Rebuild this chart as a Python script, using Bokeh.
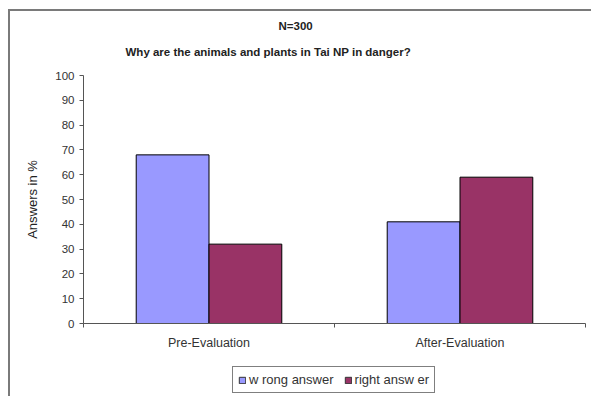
from bokeh.plotting import figure
from bokeh.models import (FixedTicker, Legend, LegendItem, Title, Column,
                          ColumnDataSource, Range1d)
from bokeh.embed import file_html
from bokeh.resources import INLINE

# Survey results (percent of answers), N=300
categories = ["Pre-Evaluation", "After-Evaluation"]
series = ["w rong answer", "right answ er"]
wrong_answer = [68, 41]
right_answer = [32, 59]
y_ticks = [0, 10, 20, 30, 40, 50, 60, 70, 80, 90, 100]
colors = ["#9999FF", "#993366"]

FONT = "Liberation Sans"
BAR_W = 0.29

centers = [i + 0.5 for i in range(len(categories))]

p = figure(width=581, height=351, output_backend="svg", toolbar_location=None,
           x_range=Range1d(0, len(categories)), y_range=Range1d(0, 100),
           min_border_left=73, min_border_right=6, min_border_top=64,
           min_border_bottom=39)
p.background_fill_color = "white"
p.border_fill_color = "white"
p.outline_line_color = None
p.grid.visible = False

src_wrong = ColumnDataSource(dict(x=[c - BAR_W / 2 for c in centers], top=wrong_answer))
src_right = ColumnDataSource(dict(x=[c + BAR_W / 2 for c in centers], top=right_answer))
p.vbar(x="x", top="top", width=BAR_W, source=src_wrong,
       fill_color=colors[0], line_color="#000000", line_width=1)
p.vbar(x="x", top="top", width=BAR_W, source=src_right,
       fill_color=colors[1], line_color="#000000", line_width=1)

# y axis
p.yaxis.ticker = FixedTicker(ticks=y_ticks)
p.yaxis.axis_label = "Answers in %"
p.yaxis.axis_label_text_font = FONT
p.yaxis.axis_label_text_font_size = "13px"
p.yaxis.axis_label_text_font_style = "normal"
p.yaxis.axis_label_text_color = "#222222"
p.yaxis.axis_label_standoff = 12
p.yaxis.major_label_text_font = FONT
p.yaxis.major_label_text_font_size = "11.5px"
p.yaxis.major_label_text_color = "#333333"
p.yaxis.major_label_standoff = 5
p.yaxis.major_tick_out = 4
p.yaxis.major_tick_in = 0
p.yaxis.minor_tick_line_color = None
p.yaxis.axis_line_color = "#555555"
p.yaxis.major_tick_line_color = "#555555"

# x axis: labels at category centres, small ticks between categories
p.xaxis.ticker = FixedTicker(ticks=centers, minor_ticks=[0, 1, 2])
p.xaxis.major_label_overrides = {c: name for c, name in zip(centers, categories)}
p.xaxis.major_label_text_font = FONT
p.xaxis.major_label_text_font_size = "12.5px"
p.xaxis.major_label_text_color = "#333333"
p.xaxis.major_label_standoff = 8
p.xaxis.major_tick_out = 0
p.xaxis.major_tick_in = 0
p.xaxis.major_tick_line_color = None
p.xaxis.minor_tick_out = 4
p.xaxis.minor_tick_in = 0
p.xaxis.minor_tick_line_color = "#555555"
p.xaxis.axis_line_color = "#555555"

# titles (first added sits nearest the plot)
p.add_layout(Title(text="Why are the animals and plants in Tai NP in danger?",
                   align="left", offset=42, standoff=32, vertical_align="top",
                   text_font=FONT, text_font_size="11.5px", text_font_style="bold",
                   text_color="#222222"), "above")
p.add_layout(Title(text="N=300", align="left", offset=195, standoff=-20,
                   vertical_align="top",
                   text_font=FONT, text_font_size="11.5px", text_font_style="bold",
                   text_color="#222222"), "above")

# legend strip under the chart; its bars lie outside the visible range,
# so only the legend swatches show
leg = figure(width=581, height=34, output_backend="svg", toolbar_location=None,
             x_axis_location=None, y_axis_location=None,
             x_range=Range1d(0, len(categories)), y_range=Range1d(1000, 1001),
             min_border_left=0, min_border_right=0, min_border_top=0,
             min_border_bottom=0)
leg.outline_line_color = None
leg.grid.visible = False
swatches = [leg.vbar(x=centers, top=vals, width=BAR_W, fill_color=c, line_color="#333333")
            for vals, c in zip([wrong_answer, right_answer], colors)]
legend = Legend(items=[LegendItem(label=s, renderers=[r]) for s, r in zip(series, swatches)],
                orientation="horizontal", location=(149, 3),
                label_text_font=FONT, label_text_font_size="13px",
                label_text_color="#333333",
                glyph_width=8, glyph_height=8, spacing=10, padding=5, margin=0,
                label_standoff=3, border_line_color="#000000",
                background_fill_color="white", background_fill_alpha=1)
leg.add_layout(legend, "center")

page = Column(children=[p, leg], margin=(9, 0, 0, 8), spacing=0,
              styles={"border-left": "2px solid #7a7a7a",
                      "border-top": "2px solid #7a7a7a",
                      "background-color": "white"})

open("out.html", "w").write(file_html(page, INLINE))
